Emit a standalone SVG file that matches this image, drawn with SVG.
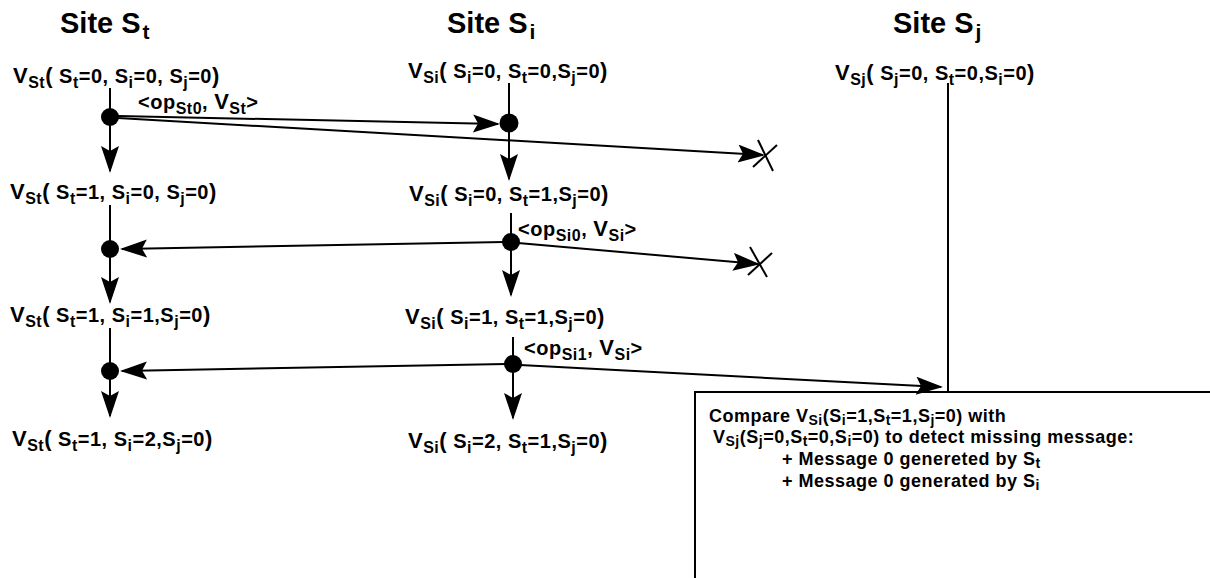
<svg xmlns="http://www.w3.org/2000/svg" width="1210" height="578" viewBox="0 0 1210 578">
  <style>
    text { font-family: "Liberation Sans", Arial, sans-serif; font-weight: bold; fill: #000; }
    .title { font-size: 29px; }
    .tsub { font-size: 21px; }
    .lbl { font-size: 20px; letter-spacing: 0.5px; }
    .big { font-size: 22px; }
    .sub { font-size: 16px; }
    .note { font-size: 18px; letter-spacing: 0.5px; }
    .nsub { font-size: 14px; }
    .wire { stroke: #000; stroke-width: 2; fill: none; }
    .dot { fill: #000; }
  </style>
  <defs>
    <marker id="head" markerUnits="userSpaceOnUse" markerWidth="30" markerHeight="20" refX="25" refY="9" orient="auto">
      <path d="M0,0 L27,9 L0,18 L5,9 Z" fill="#000"/>
    </marker>
  </defs>

  <rect width="1210" height="578" fill="#fff"/>

  <!-- site headers -->
  <g id="site-t"><text class="title" x="60" y="33">Site S<tspan class="tsub" dx="2" dy="6">t</tspan></text></g>
  <g id="site-i"><text class="title" x="447" y="33">Site S<tspan class="tsub" dx="2" dy="6">i</tspan></text></g>
  <g id="site-j"><text class="title" x="893" y="33">Site S<tspan class="tsub" dx="2" dy="6">j</tspan></text></g>

  <!-- state vectors at site St -->
  <g id="st-v0"><text class="lbl" x="13" y="83"><tspan class="big">V</tspan><tspan class="sub" dy="5">St</tspan><tspan class="big" dy="-5">(</tspan> S<tspan class="sub" dy="5">t</tspan><tspan dy="-5">=0, S</tspan><tspan class="sub" dy="5">i</tspan><tspan dy="-5">=0, S</tspan><tspan class="sub" dy="5">j</tspan><tspan dy="-5">=0</tspan><tspan class="big">)</tspan></text></g>
  <g id="st-v1"><text class="lbl" x="10" y="199"><tspan class="big">V</tspan><tspan class="sub" dy="5">St</tspan><tspan class="big" dy="-5">(</tspan> S<tspan class="sub" dy="5">t</tspan><tspan dy="-5">=1, S</tspan><tspan class="sub" dy="5">i</tspan><tspan dy="-5">=0, S</tspan><tspan class="sub" dy="5">j</tspan><tspan dy="-5">=0</tspan><tspan class="big">)</tspan></text></g>
  <g id="st-v2"><text class="lbl" x="10" y="322"><tspan class="big">V</tspan><tspan class="sub" dy="5">St</tspan><tspan class="big" dy="-5">(</tspan> S<tspan class="sub" dy="5">t</tspan><tspan dy="-5">=1, S</tspan><tspan class="sub" dy="5">i</tspan><tspan dy="-5">=1,S</tspan><tspan class="sub" dy="5">j</tspan><tspan dy="-5">=0</tspan><tspan class="big">)</tspan></text></g>
  <g id="st-v3"><text class="lbl" x="12" y="446"><tspan class="big">V</tspan><tspan class="sub" dy="5">St</tspan><tspan class="big" dy="-5">(</tspan> S<tspan class="sub" dy="5">t</tspan><tspan dy="-5">=1, S</tspan><tspan class="sub" dy="5">i</tspan><tspan dy="-5">=2,S</tspan><tspan class="sub" dy="5">j</tspan><tspan dy="-5">=0</tspan><tspan class="big">)</tspan></text></g>

  <!-- state vectors at site Si -->
  <g id="si-v0"><text class="lbl" x="408" y="78"><tspan class="big">V</tspan><tspan class="sub" dy="5">Si</tspan><tspan class="big" dy="-5">(</tspan> S<tspan class="sub" dy="5">i</tspan><tspan dy="-5">=0, S</tspan><tspan class="sub" dy="5">t</tspan><tspan dy="-5">=0,S</tspan><tspan class="sub" dy="5">j</tspan><tspan dy="-5">=0</tspan><tspan class="big">)</tspan></text></g>
  <g id="si-v1"><text class="lbl" x="409" y="201"><tspan class="big">V</tspan><tspan class="sub" dy="5">Si</tspan><tspan class="big" dy="-5">(</tspan> S<tspan class="sub" dy="5">i</tspan><tspan dy="-5">=0, S</tspan><tspan class="sub" dy="5">t</tspan><tspan dy="-5">=1,S</tspan><tspan class="sub" dy="5">j</tspan><tspan dy="-5">=0</tspan><tspan class="big">)</tspan></text></g>
  <g id="si-v2"><text class="lbl" x="405" y="324"><tspan class="big">V</tspan><tspan class="sub" dy="5">Si</tspan><tspan class="big" dy="-5">(</tspan> S<tspan class="sub" dy="5">i</tspan><tspan dy="-5">=1, S</tspan><tspan class="sub" dy="5">t</tspan><tspan dy="-5">=1,S</tspan><tspan class="sub" dy="5">j</tspan><tspan dy="-5">=0</tspan><tspan class="big">)</tspan></text></g>
  <g id="si-v3"><text class="lbl" x="408" y="448"><tspan class="big">V</tspan><tspan class="sub" dy="5">Si</tspan><tspan class="big" dy="-5">(</tspan> S<tspan class="sub" dy="5">i</tspan><tspan dy="-5">=2, S</tspan><tspan class="sub" dy="5">t</tspan><tspan dy="-5">=1,S</tspan><tspan class="sub" dy="5">j</tspan><tspan dy="-5">=0</tspan><tspan class="big">)</tspan></text></g>

  <!-- state vector at site Sj -->
  <g id="sj-v0"><text class="lbl" x="835" y="80"><tspan class="big">V</tspan><tspan class="sub" dy="5">Sj</tspan><tspan class="big" dy="-5">(</tspan> S<tspan class="sub" dy="5">j</tspan><tspan dy="-5">=0, S</tspan><tspan class="sub" dy="5">t</tspan><tspan dy="-5">=0,S</tspan><tspan class="sub" dy="5">i</tspan><tspan dy="-5">=0</tspan><tspan class="big">)</tspan></text></g>

  <!-- events -->
  <g id="st-e0"><circle class="dot" cx="110" cy="117" r="9"/></g>
  <g id="st-e1"><circle class="dot" cx="110" cy="249" r="9"/></g>
  <g id="st-e2"><circle class="dot" cx="110" cy="371" r="9"/></g>
  <g id="si-e0"><circle class="dot" cx="509" cy="123" r="9.5"/></g>
  <g id="si-e1"><circle class="dot" cx="511" cy="242" r="9"/></g>
  <g id="si-e2"><circle class="dot" cx="513" cy="364" r="9"/></g>

  <!-- message labels -->
  <g id="msg-st0"><text class="lbl" x="138" y="109">&lt;op<tspan class="sub" dy="5">St0</tspan><tspan dy="-5">, </tspan><tspan class="big">V</tspan><tspan class="sub" dy="5">St</tspan><tspan dy="-5">&gt;</tspan></text></g>
  <g id="msg-si0"><text class="lbl" x="518" y="236">&lt;op<tspan class="sub" dy="5">Si0</tspan><tspan dy="-5">, </tspan><tspan class="big">V</tspan><tspan class="sub" dy="5">Si</tspan><tspan dy="-5">&gt;</tspan></text></g>
  <g id="msg-si1"><text class="lbl" x="524" y="355">&lt;op<tspan class="sub" dy="5">Si1</tspan><tspan dy="-5">, </tspan><tspan class="big">V</tspan><tspan class="sub" dy="5">Si</tspan><tspan dy="-5">&gt;</tspan></text></g>

  <!-- detection note at site Sj -->
  <g id="sj-note">
    <rect x="695" y="392" width="560" height="220" fill="#fff" stroke="#000" stroke-width="2"/>
    <text class="note" x="709" y="422">Compare V<tspan class="nsub" dy="3">Si</tspan><tspan dy="-3">(S</tspan><tspan class="nsub" dy="3">i</tspan><tspan dy="-3">=1,S</tspan><tspan class="nsub" dy="3">t</tspan><tspan dy="-3">=1,S</tspan><tspan class="nsub" dy="3">j</tspan><tspan dy="-3">=0) with</tspan></text>
    <text class="note" x="713" y="443">V<tspan class="nsub" dy="3">Sj</tspan><tspan dy="-3">(S</tspan><tspan class="nsub" dy="3">j</tspan><tspan dy="-3">=0,S</tspan><tspan class="nsub" dy="3">t</tspan><tspan dy="-3">=0,S</tspan><tspan class="nsub" dy="3">i</tspan><tspan dy="-3">=0) to detect missing message:</tspan></text>
    <text class="note" x="782" y="465">+ Message 0 genereted by S<tspan class="nsub" dy="3">t</tspan></text>
    <text class="note" x="782" y="487">+ Message 0 generated by S<tspan class="nsub" dy="3">i</tspan></text>
  </g>

  <!-- connectors -->
  <g id="connectors" class="wire">
    <!-- timelines -->
    <line x1="110" y1="88" x2="110" y2="110"/>
    <line x1="110" y1="117" x2="110" y2="171" marker-end="url(#head)"/>
    <line x1="110" y1="205" x2="110" y2="242"/>
    <line x1="110" y1="249" x2="110" y2="302" marker-end="url(#head)"/>
    <line x1="110" y1="328" x2="110" y2="364"/>
    <line x1="110" y1="371" x2="110" y2="416" marker-end="url(#head)"/>
    <line x1="509" y1="83" x2="509" y2="116"/>
    <line x1="509" y1="123" x2="509" y2="179" marker-end="url(#head)"/>
    <line x1="511" y1="213" x2="511" y2="235"/>
    <line x1="511" y1="242" x2="511" y2="295" marker-end="url(#head)"/>
    <line x1="513" y1="337" x2="513" y2="357"/>
    <line x1="513" y1="364" x2="513" y2="418" marker-end="url(#head)"/>
    <line x1="948" y1="83" x2="948" y2="392"/>
    <!-- messages -->
    <line x1="118" y1="116" x2="498" y2="124" marker-end="url(#head)"/>
    <line x1="118" y1="118" x2="763" y2="155" marker-end="url(#head)"/>
    <line x1="504" y1="242" x2="122" y2="249" marker-end="url(#head)"/>
    <line x1="518" y1="243" x2="758" y2="264" marker-end="url(#head)"/>
    <line x1="506" y1="364" x2="122" y2="371" marker-end="url(#head)"/>
    <line x1="520" y1="365" x2="941" y2="387" marker-end="url(#head)"/>
    <!-- lost-message crosses -->
    <line x1="758" y1="140" x2="773" y2="171"/>
    <line x1="777" y1="145" x2="753" y2="167"/>
    <line x1="750" y1="247" x2="767" y2="277"/>
    <line x1="772" y1="253" x2="748" y2="275"/>
  </g>
</svg>
